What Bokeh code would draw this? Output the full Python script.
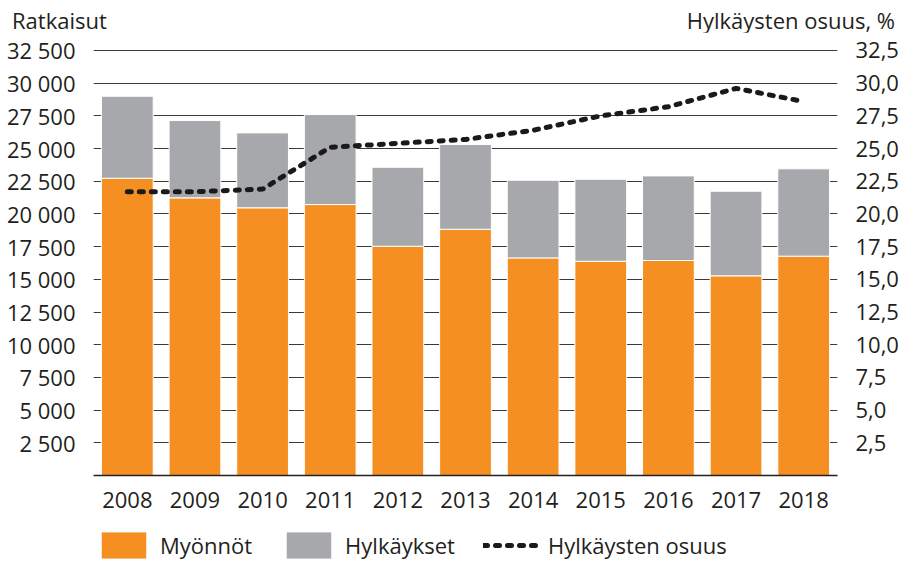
from bokeh.plotting import figure
from bokeh.layouts import column
from bokeh.models import (Range1d, LinearAxis, FixedTicker, CustomJSTickFormatter,
                          Legend, LegendItem, ColumnDataSource, FactorRange, Div)
from bokeh.embed import file_html
from bokeh.resources import INLINE

years = ["2008", "2009", "2010", "2011", "2012", "2013", "2014", "2015", "2016", "2017", "2018"]
myonnot = [22730, 21230, 20470, 20720, 17530, 18830, 16640, 16380, 16440, 15270, 16770]
hylkaykset = [6270, 5910, 5730, 6880, 6040, 6480, 5940, 6270, 6470, 6470, 6680]
osuus = [21.7, 21.7, 21.9, 25.1, 25.4, 25.7, 26.4, 27.5, 28.2, 29.6, 28.6]
left_ticks = [2500 * i for i in range(1, 14)]
right_ticks = [2.5 * i for i in range(1, 14)]
left_title = "Ratkaisut"
right_title = "Hylkäysten osuus, %"
series_names = ["Myönnöt", "Hylkäykset", "Hylkäysten osuus"]

FONT = "Open Sans"
FS = "22px"
TXT = "#231f20"
ORANGE = "#F58F22"
GRAY = "#A7A8AB"
LINE_KW = dict(line_color="#1a1a1a", line_width=5, line_dash="4 8", line_cap="round")

src = ColumnDataSource(dict(year=years, myonnot=myonnot, hylkaykset=hylkaykset, osuus=osuus))

# ---------------- main chart ----------------
p = figure(width=901, height=486, x_range=FactorRange(*years, range_padding=0),
           y_range=Range1d(0, 32576), output_backend="svg", toolbar_location=None,
           min_border_left=93, min_border_right=61, min_border_top=17, min_border_bottom=43)
p.outline_line_color = None
p.extra_y_ranges = {"pct": Range1d(0, 32.576)}

bars = p.vbar_stack(["myonnot", "hylkaykset"], x="year", width=0.765, color=[ORANGE, GRAY],
                    line_color="white", line_width=1, source=src)
line = p.line(x="year", y="osuus", source=src, y_range_name="pct", **LINE_KW)

p.xaxis.axis_line_color = "#222222"
p.xaxis.axis_line_width = 1.5
p.xaxis.major_tick_line_color = None
p.xaxis.minor_tick_line_color = None
p.xaxis.major_label_standoff = 10
p.xaxis.major_label_text_font = FONT
p.xaxis.major_label_text_font_size = FS
p.xaxis.major_label_text_color = TXT

ya = p.yaxis[0]
ya.ticker = FixedTicker(ticks=left_ticks)
ya.formatter = CustomJSTickFormatter(code="return String(Math.round(tick)).replace(/\\B(?=(\\d{3})+(?!\\d))/g, ' ');")
ya.axis_line_color = None
ya.major_tick_line_color = None
ya.minor_tick_line_color = None
ya.major_label_standoff = 12
ya.major_label_text_font = FONT
ya.major_label_text_font_size = FS
ya.major_label_text_color = TXT

ra = LinearAxis(y_range_name="pct", ticker=FixedTicker(ticks=right_ticks),
                formatter=CustomJSTickFormatter(code="return tick.toFixed(1).replace('.', ',');"))
ra.axis_line_color = None
ra.major_tick_line_color = None
ra.minor_tick_line_color = None
ra.major_label_standoff = 12
ra.major_label_text_font = FONT
ra.major_label_text_font_size = FS
ra.major_label_text_color = TXT
p.add_layout(ra, "right")

p.xgrid.grid_line_color = None
p.ygrid.ticker = FixedTicker(ticks=left_ticks)
p.ygrid.grid_line_color = "#3a3a3a"
p.ygrid.grid_line_width = 1

# ---------------- legend strip ----------------
lf = figure(width=901, height=46, x_range=Range1d(0, 1), y_range=Range1d(0, 1),
            x_axis_type=None, y_axis_type=None, output_backend="svg", toolbar_location=None,
            min_border=0)
lf.outline_line_color = None
lf.grid.visible = False
# swatch-only renderers: one point placed outside the visible range of this strip
swatch = ColumnDataSource(dict(x=[-5], y=[-5]))
r1 = lf.vbar(x="x", top="y", width=0.1, source=swatch, color=ORANGE, line_color="white", line_width=1)
r2 = lf.vbar(x="x", top="y", width=0.1, source=swatch, color=GRAY, line_color="white", line_width=1)
r3 = lf.line(x="x", y="y", source=swatch, **LINE_KW)
legend = Legend(items=[LegendItem(label=series_names[0], renderers=[r1]),
                       LegendItem(label=series_names[1], renderers=[r2]),
                       LegendItem(label=series_names[2], renderers=[r3])],
                orientation="horizontal", location=(2, 2), glyph_width=57, glyph_height=34,
                label_standoff=8, spacing=28, padding=0, margin=0,
                label_text_font=FONT, label_text_font_size=FS, label_text_color=TXT,
                border_line_color=None, background_fill_alpha=0)
lf.add_layout(legend, "center")

# ---------------- header ----------------
span_style = "position:absolute;top:8px;line-height:24px;font-family:'Open Sans';font-size:22px;color:%s;white-space:nowrap;" % TXT
head = Div(text=('<div style="position:relative;width:901px;height:32px;">'
                 '<span style="%sleft:12px;">%s</span>'
                 '<span style="%sright:6px;">%s</span></div>') % (span_style, left_title, span_style, right_title),
           width=901, height=32, margin=(0, 0, 0, 0))

layout = column(head, p, lf, spacing=0)
open("out.html", "w").write(file_html(layout, INLINE))
